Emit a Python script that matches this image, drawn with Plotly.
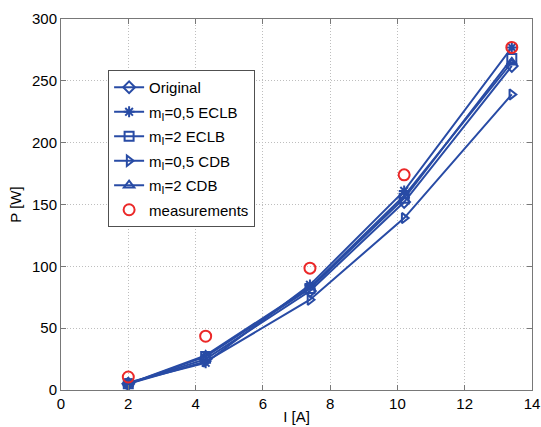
import plotly.graph_objects as go

current = [2, 4.3, 7.4, 10.2, 13.4]
original = [5, 25, 80, 152, 262]
eclb_05 = [6, 22, 85, 161, 277]
eclb_2 = [5, 27, 82, 155, 268]
cdb_05 = [5, 23, 73, 139, 239]
cdb_2 = [5, 28, 83, 157, 265]
measurements = [10.5, 43.5, 98.5, 174, 277]

x_ticks = [0, 2, 4, 6, 8, 10, 12, 14]
y_ticks = [0, 50, 100, 150, 200, 250, 300]

blue = "rgb(40,75,165)"
red = "rgb(235,40,40)"

series = [
    ("Original", original, "diamond-open"),
    ("m<sub>I</sub>=0,5 ECLB", eclb_05, "asterisk-open"),
    ("m<sub>I</sub>=2 ECLB", eclb_2, "square-open"),
    ("m<sub>I</sub>=0,5 CDB", cdb_05, "triangle-right-open"),
    ("m<sub>I</sub>=2 CDB", cdb_2, "triangle-up-open"),
]

fig = go.Figure()
for i, (name, vals, sym) in enumerate(series):
    fig.add_trace(go.Scatter(
        x=current, y=vals, name=name, mode="lines+markers", legendgroup=f"g{i}",
        line=dict(color=blue, width=2),
        marker=dict(symbol=sym, size=9, color=blue, line=dict(color=blue, width=2)),
    ))
fig.add_trace(go.Scatter(
    x=current, y=measurements, name="measurements", mode="markers", legendgroup="meas",
    marker=dict(symbol="circle-open", size=11, color=red, line=dict(color=red, width=2)),
))

axis_common = dict(
    showgrid=True, gridcolor="rgb(190,190,190)", griddash="1px,2px", gridwidth=1,
    showline=True, linecolor="rgb(120,120,120)", linewidth=1, mirror="ticks",
    ticks="inside", ticklen=5, tickcolor="rgb(120,120,120)",
    zeroline=False, tickfont=dict(size=15, color="black"), automargin=False,
)

fig.update_layout(
    width=541, height=427,
    margin=dict(l=61, r=9, t=19, b=37),
    paper_bgcolor="white", plot_bgcolor="white",
    font=dict(family="Liberation Sans, Arial, sans-serif", size=15, color="black"),
    xaxis=dict(range=[0, 14], tickvals=x_ticks,
               title=dict(text="I [A]", standoff=0, font=dict(size=15)), **axis_common),
    yaxis=dict(range=[0, 300], tickvals=y_ticks,
               title=dict(text="P [W]", standoff=6, font=dict(size=15)), **axis_common),
    legend=dict(x=0.1, y=0.8625, xanchor="left", yanchor="top",
                bgcolor="white", bordercolor="rgb(80,80,80)", borderwidth=1,
                font=dict(size=15), tracegroupgap=2),
    showlegend=True,
)

fig.write_html("out.html", config={"displayModeBar": False},
               post_script="document.body.style.margin='0';document.body.style.overflow='hidden';")
